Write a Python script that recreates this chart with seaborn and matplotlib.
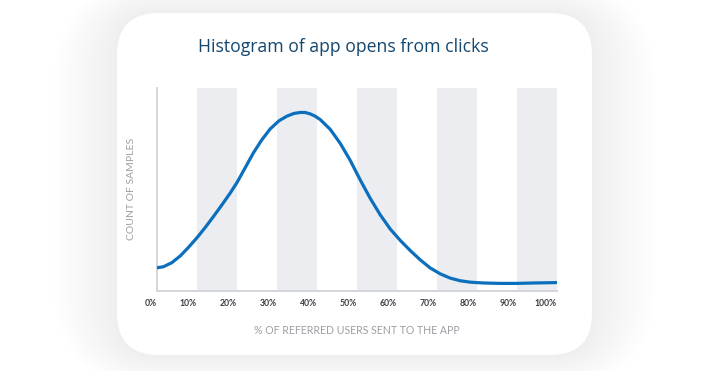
import pandas as pd
import matplotlib.pyplot as plt
import seaborn as sns
from matplotlib.patches import FancyBboxPatch

# Curve (x in %, y in arbitrary count units)
pct = [0, 1.6, 3.7, 5.8, 7.8, 10.0, 12.0, 14.1, 16.2, 18.3, 20.0, 22.0, 24.1, 26.2,
       28.3, 30.5, 32.5, 34.2, 35.8, 37.0, 38.3, 39.5, 40.8, 43.3, 45.8, 48.3, 50.8,
       53.3, 55.8, 58.3, 60.8, 63.3, 65.8, 68.3, 70.8, 73.3, 75.8, 78.3, 81.6, 85.8,
       89.9, 94.1, 100]
count = [11.3, 11.8, 13.8, 17.1, 21.2, 26.1, 31.0, 36.5, 42.2, 48.1, 53.3, 60.4, 67.9, 74.3,
         79.7, 83.7, 86.0, 87.3, 87.8, 87.8, 87.1, 86.0, 84.3, 79.5, 72.6, 64.2, 54.6,
         45.5, 37.4, 30.4, 24.8, 19.8, 15.2, 11.2, 8.3, 6.2, 4.9, 4.2, 3.8, 3.6,
         3.6, 3.8, 4.0]
tick_vals = [0, 10, 20, 30, 40, 50, 60, 70, 80, 90, 100]
tick_labels = ['0%', '10%', '20%', '30%', '40%', '50%', '60%', '70%', '80%', '90%', '100%']
bands = [(10, 20), (30, 40), (50, 60), (70, 80), (90, 100)]

df = pd.DataFrame({'pct': pct, 'count': count})

sns.set_style('white')
plt.rcParams['font.family'] = ['Lato', 'DejaVu Sans']

fig = plt.figure(figsize=(7.02, 3.71), dpi=100)

# Hintergrund: Karte mit weichem Schatten (Pixelkoordinaten)
bg = fig.add_axes([0, 0, 1, 1])
bg.set_xlim(0, 702)
bg.set_ylim(371, 0)
bg.axis('off')
for i in range(16):
    grow = 4 * (16 - i)
    sh = FancyBboxPatch((117 - grow, 13 - grow * 0.5), 475 + 2 * grow, 342 + grow,
                        boxstyle=f'round,pad=0,rounding_size={42 + grow}',
                        facecolor='#aab0ba', edgecolor='none', alpha=0.006)
    bg.add_patch(sh)
card = FancyBboxPatch((117, 13), 475, 342, boxstyle='round,pad=0,rounding_size=42',
                      facecolor='white', edgecolor='none')
bg.add_patch(card)

# Diagramm
ax = fig.add_axes([157 / 702, 1 - 290.7 / 371, 400 / 702, 203 / 371])
ax.set_facecolor('white')
for lo, hi in bands:
    ax.axvspan(lo, hi, color='#ebedf0', lw=0, zorder=0)
sns.lineplot(data=df, x='pct', y='count', ax=ax, color='#0b6fbd', lw=2.3, zorder=3)

ax.set_xlim(0, 100)
ax.set_ylim(0, 100)
ax.set_yticks([])
ax.set_xticks(tick_vals)
ax.set_xticklabels(tick_labels, ha='right', fontsize=6.2, color='#3a3e44', fontweight='bold')
ax.tick_params(axis='x', length=0, pad=6)
sns.despine(ax=ax)
for s in ['left', 'bottom']:
    ax.spines[s].set_color('#d3d7dc')
    ax.spines[s].set_linewidth(1.4)

ax.set_xlabel('% OF REFERRED USERS SENT TO THE APP', fontsize=7.6, color='#9b9fa4', labelpad=12)
ax.set_ylabel('COUNT OF SAMPLES', fontsize=7.5, color='#9b9fa4', labelpad=15)

fig.text(343 / 702, 1 - 47 / 371, 'Histogram of app opens from clicks', ha='center', va='center',
         fontsize=12.7, color='#14476f', family=['Open Sans', 'DejaVu Sans'])

fig.savefig('out.png', dpi=100)
